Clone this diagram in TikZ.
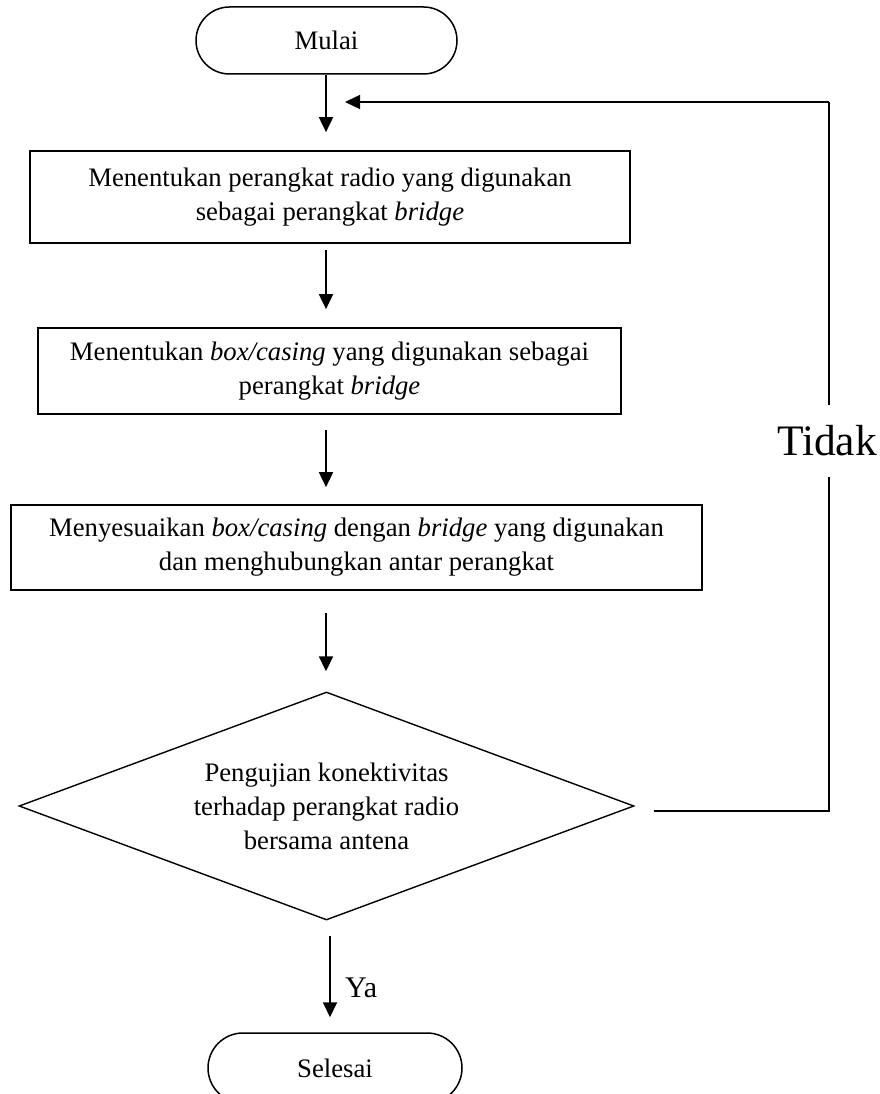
\documentclass[tikz,border=0pt]{standalone}
\usepackage{fontspec}
\setmainfont{Liberation Serif}
\usetikzlibrary{shapes.geometric,shapes.misc,arrows.meta}
\begin{document}
\begin{tikzpicture}[x=1pt,y=-1pt,
  txt/.style={font=\fontsize{26.7}{34}\selectfont, align=center},
  procbox/.style={draw, line width=1.7pt, rectangle, inner sep=0pt, txt},
  termbox/.style={draw, line width=1.5pt, rounded rectangle, inner sep=0pt, txt},
  decbox/.style={draw, line width=1.4pt, diamond, aspect=2.7, inner sep=0pt, txt},
  flow/.style={line width=1.8pt, -{Triangle[length=15pt,width=14pt]}},
  fb/.style={line width=1.4pt},
  lbl/.style={inner sep=0pt},
]
\useasboundingbox (0,0) rectangle (880,1094);
\clip (0,0) rectangle (880,1094);
\coordinate (spine) at (326,0);

\node[termbox, minimum width=261pt, minimum height=67pt] (mulai) at (326.5,40.5) {Mulai};
\node[procbox, minimum width=600pt, minimum height=92pt] (b1) at (330,197)
  {Menentukan perangkat radio yang digunakan\\sebagai perangkat \textit{bridge}};
\node[procbox, minimum width=583pt, minimum height=86pt] (b2) at (329.5,371)
  {Menentukan \textit{box/casing} yang digunakan sebagai\\perangkat \textit{bridge}};
\node[procbox, minimum width=691pt, minimum height=85pt] (b3) at (356.5,547.5)
  {Menyesuaikan \textit{box/casing} dengan \textit{bridge} yang digunakan\\dan menghubungkan antar perangkat};
\node[decbox, minimum width=615pt, minimum height=228pt] (dec) at (326.5,806)
  {Pengujian konektivitas\\terhadap perangkat radio\\bersama antena};
\node[termbox, minimum width=254pt, minimum height=70pt] (selesai) at (335,1068) {Selesai};

\node[lbl, font=\fontsize{43.5}{48}\selectfont, minimum height=72pt] (tidak) at (827,441) {Tidak};
\node[lbl, font=\fontsize{30}{34}\selectfont, anchor=base west] (ya) at (345,997) {Ya};

\coordinate (fbR) at (829,811);
\coordinate (fbT) at (829,102);

\draw[flow, shorten >=18pt] (mulai.south -| spine) -- (b1.north -| spine);
\draw[flow, shorten <=6pt, shorten >=18pt] (b1.south -| spine) -- (b2.north -| spine);
\draw[flow, shorten <=15pt, shorten >=17pt] (b2.south -| spine) -- (b3.north -| spine);
\draw[flow, shorten <=22pt, shorten >=20pt] (b3.south -| spine) -- (dec.north -| spine);
\draw[flow, shorten <=15pt, shorten >=15pt] ([xshift=3.5pt]dec.south) -- ([xshift=3.5pt]dec.south |- selesai.north);

\draw[fb] ([shift={(19,5)}]dec.east) -- (fbR) -- (fbR |- tidak.south);
\draw[fb] (fbT |- tidak.north) -- (fbT);
\draw[flow, line width=1.4pt, shorten >=19pt] (fbT) -- (fbT -| spine);
\end{tikzpicture}
\end{document}
